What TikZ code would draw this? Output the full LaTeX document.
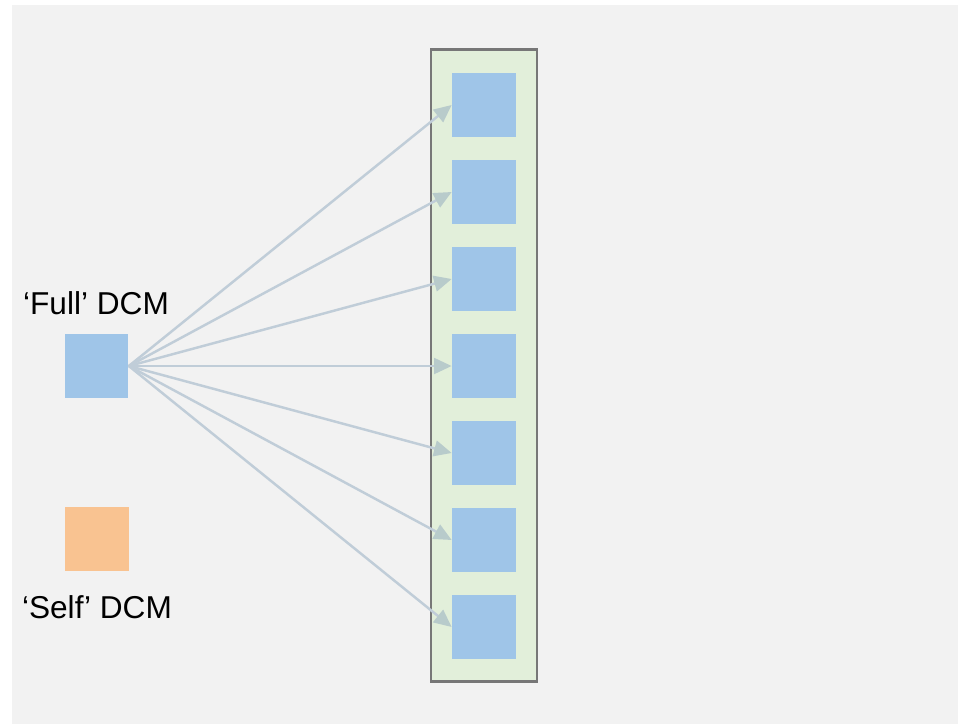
\documentclass[tikz,border=0pt]{standalone}
\usepackage{fontspec}
\setmainfont{Liberation Sans}
\usepackage{tikz}
\usetikzlibrary{arrows.meta,positioning}
\definecolor{bgGray}{HTML}{F2F2F2}
\definecolor{dcmBlue}{HTML}{9FC5E8}
\definecolor{dcmOrange}{HTML}{F9C391}
\definecolor{colGreen}{HTML}{E2EFDA}
\definecolor{colEdge}{HTML}{777777}
\definecolor{linkGray}{HTML}{C0CDD8}
\definecolor{tipGray}{HTML}{B8CBCB}
\tikzset{
  dcmFull/.style={fill=dcmBlue, draw=none, minimum width=1.28cm, minimum height=1.28cm, inner sep=0pt},
  dcmSelf/.style={fill=dcmOrange, draw=none, minimum width=1.28cm, minimum height=1.28cm, inner sep=0pt},
  %% Column of regions
  regCol/.style={fill=colGreen, draw=colEdge, line width=1.5pt, minimum width=2.12cm, minimum height=12.64cm, inner sep=0pt},
  %% Connections
  dcmlink/.style={-{Triangle[length=10pt,width=9pt,color=tipGray,fill=tipGray]}, line width=1.4pt, draw=linkGray},
  dcmlabel/.style={font=\fontsize{18}{21}\selectfont, inner sep=0pt},
}
\begin{document}
\begin{tikzpicture}[x=0.02cm, y=-0.02cm]
\useasboundingbox (0,0) rectangle (958,724);
\fill[bgGray] (12,5) rectangle (958,724);

\node[regCol] (col) at (484,365.5) {};
\foreach \i/\y in {1/105, 2/192, 3/279, 4/366, 5/453, 6/540, 7/627}
  \node[dcmFull] (r\i) at (484,\y) {};

\node[dcmFull] (full) at (96.5,366) {};
\node[dcmlabel] (fullLbl) at (96,303) {‘Full’ DCM};
\node[dcmSelf] (self) at (97,539) {};
\node[dcmlabel] (selfLbl) at (97,607) {‘Self’ DCM};

\foreach \i in {1,...,7}
  \draw[dcmlink] (full.east) -- (r\i.west);

\end{tikzpicture}
\end{document}
